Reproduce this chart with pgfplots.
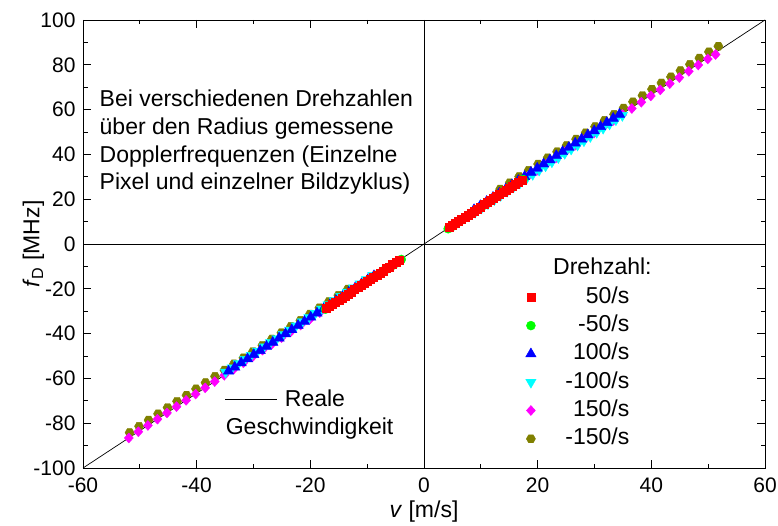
\documentclass[border=0pt]{standalone}
\usepackage{pgfplots}
\pgfplotsset{compat=1.18}
\usepackage{fontspec}
\setmainfont{Liberation Sans}
\usetikzlibrary{plotmarks}
\definecolor{cRed}{RGB}{255,0,0}
\definecolor{cGreen}{RGB}{0,255,0}
\definecolor{cBlue}{RGB}{0,0,255}
\definecolor{cCyan}{RGB}{0,255,255}
\definecolor{cMag}{RGB}{255,0,255}
\definecolor{cOlive}{RGB}{128,128,0}
\pgfdeclareplotmark{hexagon*}{%
  \pgfpathmoveto{\pgfpointpolar{0}{\pgfplotmarksize}}%
  \pgfpathlineto{\pgfpointpolar{60}{\pgfplotmarksize}}%
  \pgfpathlineto{\pgfpointpolar{120}{\pgfplotmarksize}}%
  \pgfpathlineto{\pgfpointpolar{180}{\pgfplotmarksize}}%
  \pgfpathlineto{\pgfpointpolar{240}{\pgfplotmarksize}}%
  \pgfpathlineto{\pgfpointpolar{300}{\pgfplotmarksize}}%
  \pgfpathclose
  \pgfusepathqfillstroke}
\newcommand{\txt}{\fontsize{23}{28}\selectfont}
\begin{document}
\begin{tikzpicture}
\begin{axis}[
  at={(0,0)}, anchor=south west,
  scale only axis, width=682pt, height=448pt,
  xmin=-60, xmax=60, ymin=-100, ymax=100,
  xtick={-60,-40,...,60}, ytick={-100,-80,...,100},
  minor x tick num=1, minor y tick num=1,
  tick align=inside, tick pos=both,
  major tick length=8pt, minor tick length=4.5pt,
  axis line style={line width=0.8pt},
  every tick/.style={black, line width=0.8pt},
  /pgf/number format/assume math mode=true,
  tick label style={font=\fontsize{21}{24}\selectfont},
  xticklabel style={yshift=-6.5pt},
  yticklabel style={xshift=-4pt},
  xlabel={\textit{v} [m/s]},
  ylabel={\textit{f}\textsubscript{D} [MHz]},
  xlabel style={font=\txt, at={(axis description cs:0.5,0)}, anchor=center, yshift=-44pt},
  ylabel style={font=\txt, at={(axis description cs:-0.0726,0.5)}, anchor=center},
  clip=false,
  legend image code/.code={\path (-5pt,0pt) (5pt,0pt); \draw[#1] plot coordinates {(0pt,0pt)};},
  legend style={draw=none, fill=none, inner sep=0pt, outer sep=0pt,
    at={(axis cs:36.13,-18.44)}, anchor=north east,
    font=\txt, legend cell align=right,
    nodes={inner sep=0pt, outer sep=0pt, text height=18pt, text depth=6pt},
    row sep=4.3pt, column sep=29.3pt},
]
% zero lines
\draw[line width=0.8pt] (axis cs:0,-100) -- (axis cs:0,100);
\draw[line width=0.8pt] (axis cs:-60,0) -- (axis cs:60,0);
% real velocity line
\addplot[black, line width=0.7pt, forget plot] coordinates {(-60,-100)(60,100)};

% -150/s (olive)
\addplot[only marks, mark=hexagon*, mark size=4.6pt, draw=cOlive, fill=cOlive, forget plot] coordinates {
(13.40,24.5)(15.07,27.3)(16.74,30.1)(18.41,32.9)(20.08,35.7)(21.75,38.5)(23.42,41.2)(25.09,44.0)(26.76,46.8)(28.43,49.6)(30.10,52.4)(31.77,55.2)(33.44,57.9)(35.11,60.7)(36.77,63.5)(38.44,66.3)(40.11,69.1)(41.78,71.9)(43.45,74.6)(45.12,77.4)(46.79,80.2)(48.46,83.0)(50.13,85.8)(51.80,88.3)
(-13.40,-20.1)(-15.07,-22.9)(-16.74,-25.7)(-18.41,-28.5)(-20.08,-31.3)(-21.75,-34.1)(-23.42,-36.8)(-25.09,-39.6)(-26.76,-42.4)(-28.43,-45.2)(-30.10,-48.0)(-31.77,-50.8)(-33.44,-53.5)(-35.11,-56.3)(-36.77,-59.1)(-38.44,-61.9)(-40.11,-64.7)(-41.78,-67.5)(-43.45,-70.2)(-45.12,-73.0)(-46.79,-75.8)(-48.46,-78.6)(-50.13,-81.4)(-51.80,-84.2)
};
% 150/s (magenta)
\addplot[only marks, mark=diamond*, mark size=5pt, mark options={xscale=1.2}, draw=cMag, fill=cMag, forget plot] coordinates {
(13.20,21.8)(14.87,24.6)(16.54,27.4)(18.21,30.1)(19.88,32.9)(21.55,35.7)(23.22,38.4)(24.89,41.2)(26.56,44.0)(28.23,46.7)(29.90,49.5)(31.57,52.2)(33.24,55.0)(34.91,57.8)(36.57,60.5)(38.24,63.3)(39.91,66.1)(41.58,68.8)(43.25,71.6)(44.92,74.3)(46.59,77.1)(48.26,79.9)(49.93,82.6)(51.30,84.6)
(-13.30,-22.2)(-14.98,-25.0)(-16.66,-27.8)(-18.34,-30.6)(-20.02,-33.4)(-21.70,-36.2)(-23.38,-39.0)(-25.06,-41.8)(-26.74,-44.6)(-28.42,-47.4)(-30.10,-50.2)(-31.78,-53.0)(-33.46,-55.8)(-35.14,-58.6)(-36.82,-61.4)(-38.50,-64.2)(-40.18,-67.0)(-41.86,-69.8)(-43.54,-72.6)(-45.22,-75.4)(-46.90,-78.2)(-48.58,-81.0)(-50.26,-83.8)(-51.94,-86.6)
};
% -100/s (cyan)
\addplot[only marks, mark=triangle*, mark size=6pt, mark options={rotate=180}, draw=cCyan, fill=cCyan, forget plot] coordinates {
(9.00,14.2)(10.13,16.1)(11.25,18.0)(12.38,19.8)(13.50,21.7)(14.63,23.6)(15.76,25.5)(16.88,27.3)(18.01,29.2)(19.13,31.1)(20.26,33.0)(21.39,34.9)(22.51,36.7)(23.64,38.6)(24.76,40.5)(25.89,42.4)(27.02,44.2)(28.14,46.1)(29.27,48.0)(30.39,49.9)(31.52,51.7)(32.65,53.6)(33.77,55.5)(34.90,57.4)
(-9.00,-14.0)(-10.13,-15.9)(-11.25,-17.8)(-12.38,-19.6)(-13.50,-21.5)(-14.63,-23.4)(-15.76,-25.3)(-16.88,-27.1)(-18.01,-29.0)(-19.13,-30.9)(-20.26,-32.8)(-21.39,-34.7)(-22.51,-36.5)(-23.64,-38.4)(-24.76,-40.3)(-25.89,-42.2)(-27.02,-44.0)(-28.14,-45.9)(-29.27,-47.8)(-30.39,-49.7)(-31.52,-51.5)(-32.65,-53.4)(-33.77,-55.3)(-34.90,-57.2)
};
% 100/s (blue)
\addplot[only marks, mark=triangle*, mark size=6pt, draw=cBlue, fill=cBlue, forget plot] coordinates {
(8.80,15.3)(9.91,17.1)(11.03,19.0)(12.14,20.8)(13.25,22.7)(14.37,24.5)(15.48,26.4)(16.59,28.3)(17.70,30.1)(18.82,32.0)(19.93,33.8)(21.04,35.7)(22.16,37.5)(23.27,39.4)(24.38,41.2)(25.50,43.1)(26.61,45.0)(27.72,46.8)(28.83,48.7)(29.95,50.5)(31.06,52.4)(32.17,54.2)(33.29,56.1)(34.40,57.9)
(-8.80,-14.2)(-9.91,-16.0)(-11.03,-17.9)(-12.14,-19.7)(-13.25,-21.6)(-14.37,-23.5)(-15.48,-25.3)(-16.59,-27.2)(-17.70,-29.0)(-18.82,-30.9)(-19.93,-32.7)(-21.04,-34.6)(-22.16,-36.4)(-23.27,-38.3)(-24.38,-40.1)(-25.50,-42.0)(-26.61,-43.9)(-27.72,-45.7)(-28.83,-47.6)(-29.95,-49.4)(-31.06,-51.3)(-32.17,-53.1)(-33.29,-55.0)(-34.40,-56.8)
};
% -50/s (green)
\addplot[only marks, mark=*, mark size=4.5pt, draw=cGreen, fill=cGreen, forget plot] coordinates {
(4.25,6.8)(4.82,7.7)(5.40,8.7)(5.97,9.7)(6.55,10.6)(7.12,11.6)(7.69,12.5)(8.27,13.5)(8.84,14.4)(9.41,15.4)(9.99,16.4)(10.56,17.3)(11.14,18.3)(11.71,19.2)(12.28,20.2)(12.86,21.1)(13.43,22.1)(14.00,23.0)(14.58,24.0)(15.15,25.0)(15.73,25.9)(16.30,26.9)(16.87,27.8)(17.45,28.8)
(-4.00,-6.9)(-4.58,-7.8)(-5.16,-8.8)(-5.74,-9.8)(-6.32,-10.7)(-6.90,-11.7)(-7.48,-12.7)(-8.06,-13.6)(-8.64,-14.6)(-9.22,-15.6)(-9.80,-16.5)(-10.38,-17.5)(-10.96,-18.5)(-11.54,-19.4)(-12.12,-20.4)(-12.70,-21.4)(-13.28,-22.3)(-13.86,-23.3)(-14.44,-24.3)(-15.02,-25.2)(-15.60,-26.2)(-16.18,-27.2)(-16.76,-28.1)(-17.34,-29.1)
};
% 50/s (red)
\addplot[only marks, mark=square*, mark size=4pt, draw=cRed, fill=cRed, forget plot] coordinates {
(4.40,7.3)(4.96,8.3)(5.51,9.2)(6.07,10.1)(6.63,11.1)(7.18,12.0)(7.74,12.9)(8.30,13.9)(8.85,14.7)(9.41,15.7)(9.97,16.6)(10.52,17.6)(11.08,18.5)(11.64,19.4)(12.19,20.3)(12.75,21.3)(13.31,22.2)(13.86,23.1)(14.42,24.1)(14.98,25.0)(15.53,25.9)(16.09,26.8)(16.65,27.8)(17.20,28.7)
(-4.42,-7.4)(-4.97,-8.3)(-5.53,-9.2)(-6.08,-10.2)(-6.64,-11.0)(-7.20,-12.0)(-7.75,-13.0)(-8.31,-13.8)(-8.87,-14.8)(-9.42,-15.7)(-9.98,-16.7)(-10.54,-17.5)(-11.09,-18.5)(-11.65,-19.4)(-12.21,-20.4)(-12.76,-21.3)(-13.32,-22.2)(-13.88,-23.1)(-14.43,-24.0)(-14.99,-25.0)(-15.55,-25.9)(-16.10,-26.9)(-16.66,-27.7)(-17.22,-28.7)
};

\addlegendimage{only marks, mark=square*, mark size=4pt, draw=cRed, fill=cRed}
\addlegendentry{50/s}
\addlegendimage{only marks, mark=*, mark size=4.5pt, draw=cGreen, fill=cGreen}
\addlegendentry{-50/s}
\addlegendimage{only marks, mark=triangle*, mark size=6pt, draw=cBlue, fill=cBlue}
\addlegendentry{100/s}
\addlegendimage{only marks, mark=triangle*, mark size=6pt, mark options={rotate=180}, draw=cCyan, fill=cCyan}
\addlegendentry{-100/s}
\addlegendimage{only marks, mark=diamond*, mark size=5pt, mark options={xscale=1.2}, draw=cMag, fill=cMag}
\addlegendentry{150/s}
\addlegendimage{only marks, mark=hexagon*, mark size=4.6pt, draw=cOlive, fill=cOlive}
\addlegendentry{-150/s}

\node[anchor=base west, inner sep=0pt, font=\txt] at (axis cs:22.7,-13.8) {Drehzahl:};

\node[anchor=base west, inner sep=0pt, font=\txt] at (axis cs:-57.1,61.3) {Bei verschiedenen Drehzahlen};
\node[anchor=base west, inner sep=0pt, font=\txt] at (axis cs:-57.1,48.9) {über den Radius gemessene};
\node[anchor=base west, inner sep=0pt, font=\txt] at (axis cs:-57.1,36.6) {Dopplerfrequenzen (Einzelne};
\node[anchor=base west, inner sep=0pt, font=\txt] at (axis cs:-57.1,24.2) {Pixel und einzelner Bildzyklus)};

\draw[black, line width=0.7pt] (axis cs:-35.0,-69.2) -- (axis cs:-25.9,-69.2);
\node[anchor=base west, inner sep=0pt, font=\txt] at (axis cs:-24.5,-72.6) {Reale};
\node[anchor=base west, inner sep=0pt, font=\txt] at (axis cs:-34.9,-85.1) {Geschwindigkeit};
\end{axis}
\pgfresetboundingbox
\path (-83pt,-57pt) rectangle (695pt,468pt);
\end{tikzpicture}
\end{document}
